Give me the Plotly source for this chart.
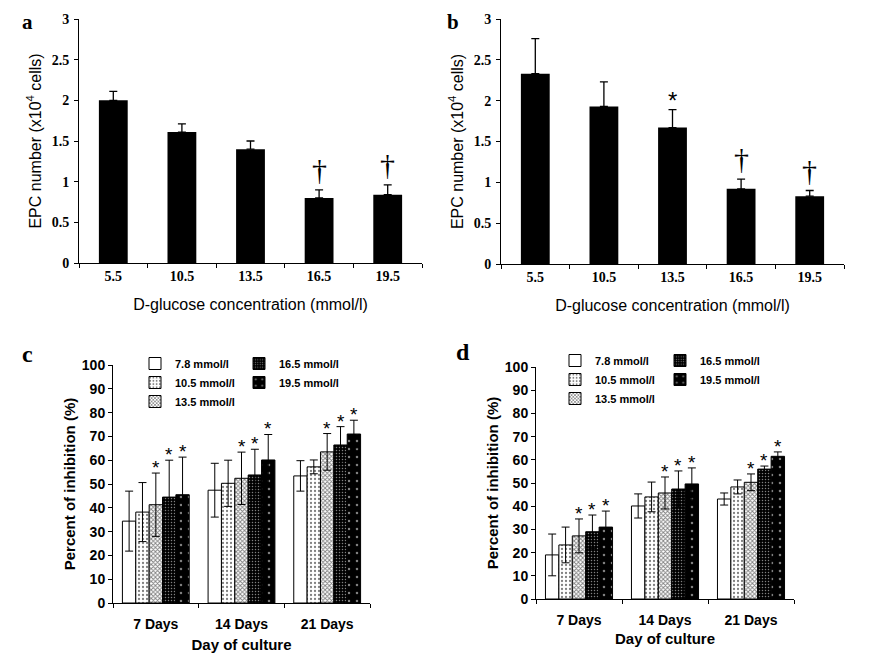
import plotly.graph_objects as go

# ---------------- data ----------------
conc_ab = ["5.5", "10.5", "13.5", "16.5", "19.5"]
a_vals = [2.00, 1.61, 1.40, 0.80, 0.84]
a_err = [0.11, 0.10, 0.10, 0.10, 0.12]
a_marks = ["", "", "", "†", "†"]

b_vals = [2.33, 1.93, 1.67, 0.92, 0.83]
b_err = [0.43, 0.30, 0.22, 0.12, 0.07]
b_marks = ["", "", "*", "†", "†"]

days = ["7 Days", "14 Days", "21 Days"]
series_names = ["7.8 mmol/l", "10.5 mmol/l", "13.5 mmol/l", "16.5 mmol/l", "19.5 mmol/l"]

c_vals = [
    [34.4, 47.4, 53.4],
    [38.2, 50.3, 57.2],
    [41.3, 52.4, 63.5],
    [44.5, 53.8, 66.4],
    [45.5, 60.1, 71.0],
]
c_err = [
    [12.6, 11.3, 6.4],
    [12.4, 9.7, 2.9],
    [13.3, 11.0, 7.7],
    [15.5, 10.8, 7.7],
    [15.8, 10.7, 5.8],
]
c_marks = [
    ["", "", ""],
    ["", "", ""],
    ["*", "*", "*"],
    ["*", "*", "*"],
    ["*", "*", "*"],
]

d_vals = [
    [19.0, 40.1, 43.1],
    [23.3, 44.0, 48.3],
    [27.2, 45.7, 50.3],
    [29.0, 47.4, 56.0],
    [31.0, 49.6, 61.5],
]
d_err = [
    [9.0, 5.2, 2.6],
    [7.7, 6.4, 3.0],
    [7.3, 6.9, 3.6],
    [7.2, 7.8, 1.3],
    [6.9, 6.9, 1.9],
]
d_marks = [
    ["", "", ""],
    ["", "", ""],
    ["*", "*", "*"],
    ["*", "*", "*"],
    ["*", "*", "*"],
]

# ---------------- styles ----------------
patterns = [
    dict(shape="", bgcolor="white", fgcolor="black"),
    dict(shape=".", bgcolor="white", fgcolor="black", size=4, solidity=0.25),
    dict(shape="x", bgcolor="white", fgcolor="black", size=3, solidity=0.5),
    dict(shape=".", bgcolor="black", fgcolor="white", size=3, solidity=0.2),
    dict(shape=".", bgcolor="black", fgcolor="white", size=8, solidity=0.08),
]
fills = ["white", "white", "white", "black", "black"]

SANS = "Liberation Sans, Arial, sans-serif"
SERIF = "Liberation Serif, Times New Roman, serif"

# page body has an 8px default margin: size the figure to fit the window
OFF = 8
W, H = 888 - OFF, 662 - OFF


def px(x):
    return (x - OFF) / W


def py(y):
    return 1 - (y - OFF) / H


def dom_x(l, r):
    return [px(l), px(r)]


def dom_y(b, t):
    return [py(b), py(t)]


fig = go.Figure()

# panels a & b
for vals, errs, xa, ya in [(a_vals, a_err, "x", "y"), (b_vals, b_err, "x2", "y2")]:
    fig.add_trace(go.Bar(
        x=conc_ab, y=vals, width=0.42, marker=dict(color="black", line=dict(width=0)),
        error_y=dict(type="data", array=errs, arrayminus=[0] * len(errs), symmetric=False,
                     color="black", thickness=1.3, width=4),
        xaxis=xa, yaxis=ya, showlegend=False,
    ))

# panels c & d
legend_map_c = ["legend", "legend", "legend", "legend2", "legend2"]
legend_map_d = ["legend3", "legend3", "legend3", "legend4", "legend4"]
for vals, errs, xa, ya, lmap in [(c_vals, c_err, "x3", "y3", legend_map_c),
                                  (d_vals, d_err, "x4", "y4", legend_map_d)]:
    for i, name in enumerate(series_names):
        fig.add_trace(go.Bar(
            x=days, y=vals[i], name=name,
            marker=dict(color=fills[i], pattern=patterns[i], line=dict(color="black", width=1)),
            error_y=dict(type="data", array=errs[i], color="black", thickness=1, width=4),
            xaxis=xa, yaxis=ya, legend=lmap[i], offsetgroup=str(i),
        ))

annotations = []
# daggers / asterisks for a & b
for vals, errs, marks, xa, ya in [(a_vals, a_err, a_marks, "x", "y"), (b_vals, b_err, b_marks, "x2", "y2")]:
    for k, (v, e, m) in enumerate(zip(vals, errs, marks)):
        if m:
            annotations.append(dict(
                x=k, y=v + e, xref=xa, yref=ya, text=m, showarrow=False,
                yanchor="bottom", yshift=2 if m == "†" else -6,
                font=dict(family=SERIF if m == "†" else SANS, size=30 if m == "†" else 24, color="black"),
            ))

# asterisks for c & d (offset per series inside group)
n = len(series_names)
group_w = 0.78
for vals, errs, marks, xa, ya in [(c_vals, c_err, c_marks, "x3", "y3"), (d_vals, d_err, d_marks, "x4", "y4")]:
    for i in range(n):
        for j in range(len(days)):
            if marks[i][j]:
                xpos = j - group_w / 2 + group_w / n * (i + 0.5)
                annotations.append(dict(
                    x=xpos, y=vals[i][j] + errs[i][j], xref=xa, yref=ya, text=marks[i][j],
                    showarrow=False, yanchor="bottom", yshift=-7,
                    font=dict(family=SANS, size=19, color="black"),
                ))

# panel letters
for letter, x, y, anchor, size in [("a", 27, 8, "top", 21), ("b", 453, 8, "top", 21),
                                   ("c", 27, 354, "middle", 24), ("d", 463, 352, "middle", 24)]:
    annotations.append(dict(
        x=px(x), y=py(y), xref="paper", yref="paper", text="<b>%s</b>" % letter,
        showarrow=False, xanchor="center", yanchor=anchor,
        font=dict(family=SERIF, size=size, color="black"),
    ))

ax_common = dict(showline=True, linecolor="black", linewidth=1, ticks="outside",
                 tickcolor="black", ticklen=4, showgrid=False, zeroline=False, automargin=False)

ab_tick = dict(family=SERIF, size=14, color="black", weight="bold")
ab_title = dict(family=SANS, size=16, color="black")
cd_tick = dict(family=SANS, size=14, color="black", weight="bold")
cd_title = dict(family=SANS, size=15, color="black", weight="bold")

fig.update_layout(
    width=W, height=H, margin=dict(l=0, r=0, t=0, b=0, autoexpand=False),
    paper_bgcolor="white", plot_bgcolor="white",
    barmode="group", bargap=0.22, bargroupgap=0,
    annotations=annotations,
    xaxis=dict(domain=dom_x(79, 422), anchor="y", type="category", tickson="boundaries",
               range=[-0.5, 4.5], tickfont=ab_tick, ticklabelstandoff=0,
               title=dict(text="D-glucose concentration (mmol/l)", standoff=16, font=ab_title), **ax_common),
    yaxis=dict(domain=dom_y(263, 19), anchor="x", range=[0, 3], dtick=0.5, tickfont=ab_tick,
               ticklabelstandoff=2,
               title=dict(text="EPC number (x10<sup>4</sup> cells)", standoff=6, font=ab_title), **ax_common),
    xaxis2=dict(domain=dom_x(501, 844), anchor="y2", type="category", tickson="boundaries",
                range=[-0.5, 4.5], tickfont=ab_tick, ticklabelstandoff=0,
                title=dict(text="D-glucose concentration (mmol/l)", standoff=16, font=ab_title), **ax_common),
    yaxis2=dict(domain=dom_y(264, 19), anchor="x2", range=[0, 3], dtick=0.5, tickfont=ab_tick,
                ticklabelstandoff=2,
                title=dict(text="EPC number (x10<sup>4</sup> cells)", standoff=6, font=ab_title), **ax_common),
    xaxis3=dict(domain=dom_x(113, 370), anchor="y3", type="category", tickson="boundaries",
                range=[-0.5, 2.5], tickfont=cd_tick, ticklabelstandoff=8,
                title=dict(text="Day of culture", standoff=8, font=cd_title), **ax_common),
    yaxis3=dict(domain=dom_y(603, 365), anchor="x3", range=[0, 100], dtick=10, tickfont=cd_tick,
                title=dict(text="Percent of inhibition (%)", standoff=2, font=cd_title), **ax_common),
    xaxis4=dict(domain=dom_x(536, 794), anchor="y4", type="category", tickson="boundaries",
                range=[-0.5, 2.5], tickfont=cd_tick, ticklabelstandoff=8,
                title=dict(text="Day of culture", standoff=6, font=cd_title), **ax_common),
    yaxis4=dict(domain=dom_y(599, 367), anchor="x4", range=[0, 100], dtick=10, tickfont=cd_tick,
                title=dict(text="Percent of inhibition (%)", standoff=2, font=cd_title), **ax_common),
)

leg_common = dict(bgcolor="rgba(0,0,0,0)", borderwidth=0, itemwidth=30, tracegroupgap=0,
                  xanchor="left", yanchor="top", orientation="v",
                  font=dict(family=SANS, size=11, color="black", weight="bold"))
fig.update_layout(
    legend=dict(x=px(135), y=py(349), **leg_common),
    legend2=dict(x=px(239), y=py(349), **leg_common),
    legend3=dict(x=px(555), y=py(346), **leg_common),
    legend4=dict(x=px(660), y=py(346), **leg_common),
)

fig.write_html("out.html")
